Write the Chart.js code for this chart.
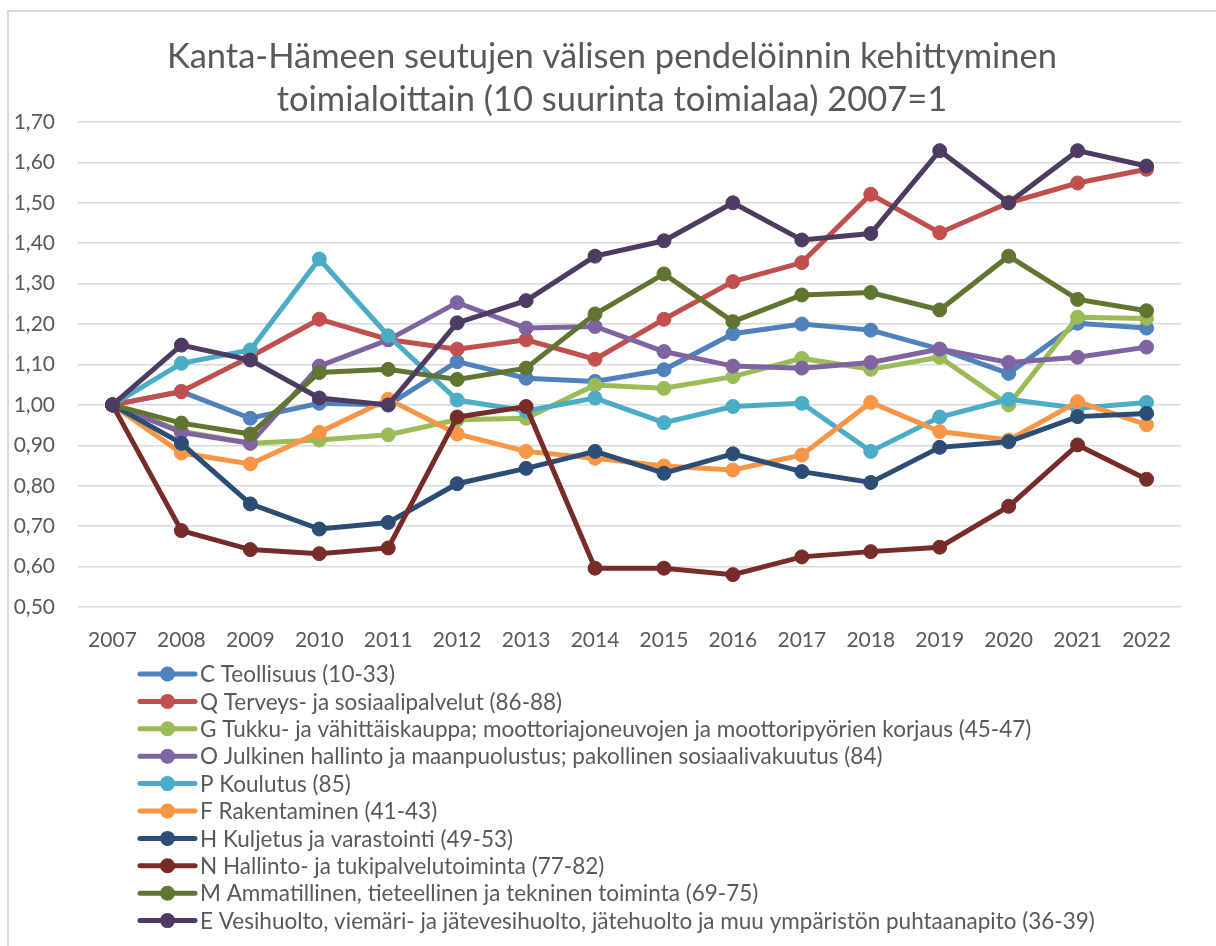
<!DOCTYPE html>
<html lang="fi">
<head>
  <meta charset="UTF-8">
  <title>Kanta-Hämeen pendelöinti</title>
  <script src="https://cdn.jsdelivr.net/npm/chart.js"></script>
  <style>
    html, body {
      margin: 0;
      padding: 0;
      background: #fff;
      overflow: hidden;
      width: 1216px;
      height: 946px;
    }
    .frame {
      position: absolute;
      left: 7px;
      top: 10px;
      width: 1400px;
      height: 1200px;
      border: 2px solid #d9d9d9;
    }
    #chart {
      position: absolute;
      left: 0;
      top: 0;
    }
  </style>
</head>
<body>
  <div class="frame"></div>
  <canvas id="chart" width="1216" height="946"></canvas>

  <script>
    const years = ['2007', '2008', '2009', '2010', '2011', '2012', '2013', '2014',
                   '2015', '2016', '2017', '2018', '2019', '2020', '2021', '2022'];

    const teollisuus   = [1.00, 1.033, 0.967, 1.004, 1.000, 1.107, 1.066, 1.058, 1.087, 1.176, 1.200, 1.185, 1.138, 1.078, 1.202, 1.190];
    const terveys      = [1.00, 1.033, 1.119, 1.212, 1.162, 1.138, 1.161, 1.113, 1.212, 1.305, 1.352, 1.521, 1.426, 1.500, 1.549, 1.583];
    const tukku        = [1.00, 0.935, 0.905, 0.913, 0.926, 0.963, 0.967, 1.049, 1.041, 1.070, 1.115, 1.088, 1.118, 1.000, 1.217, 1.214];
    const julkinen     = [1.00, 0.932, 0.905, 1.096, 1.161, 1.253, 1.190, 1.194, 1.132, 1.096, 1.091, 1.105, 1.138, 1.105, 1.118, 1.143];
    const koulutus     = [1.00, 1.103, 1.136, 1.361, 1.171, 1.012, 0.985, 1.017, 0.956, 0.996, 1.004, 0.885, 0.970, 1.014, 0.992, 1.006];
    const rakentaminen = [1.00, 0.881, 0.854, 0.932, 1.014, 0.928, 0.885, 0.868, 0.849, 0.839, 0.876, 1.006, 0.934, 0.913, 1.008, 0.951];
    const kuljetus     = [1.00, 0.905, 0.755, 0.693, 0.709, 0.805, 0.843, 0.885, 0.831, 0.879, 0.835, 0.808, 0.895, 0.909, 0.971, 0.979];
    const hallinto     = [1.00, 0.689, 0.642, 0.632, 0.646, 0.970, 0.996, 0.596, 0.596, 0.580, 0.624, 0.637, 0.648, 0.749, 0.901, 0.816];
    const ammatillinen = [1.00, 0.955, 0.928, 1.080, 1.088, 1.063, 1.091, 1.225, 1.324, 1.206, 1.272, 1.278, 1.235, 1.368, 1.261, 1.233];
    const vesihuolto   = [1.00, 1.148, 1.111, 1.017, 1.000, 1.203, 1.258, 1.368, 1.406, 1.500, 1.408, 1.424, 1.629, 1.500, 1.629, 1.591];

    const seriesNames = [
      'C Teollisuus (10-33)',
      'Q Terveys- ja sosiaalipalvelut (86-88)',
      'G Tukku- ja vähittäiskauppa; moottoriajoneuvojen ja moottoripyörien korjaus (45-47)',
      'O Julkinen hallinto ja maanpuolustus; pakollinen sosiaalivakuutus (84)',
      'P Koulutus (85)',
      'F Rakentaminen (41-43)',
      'H Kuljetus ja varastointi (49-53)',
      'N Hallinto- ja tukipalvelutoiminta (77-82)',
      'M Ammatillinen, tieteellinen ja tekninen toiminta (69-75)',
      'E Vesihuolto, viemäri- ja jätevesihuolto, jätehuolto ja muu ympäristön puhtaanapito (36-39)'
    ];
    const seriesData = [teollisuus, terveys, tukku, julkinen, koulutus,
                        rakentaminen, kuljetus, hallinto, ammatillinen, vesihuolto];
    const seriesColors = ['#4f81bd', '#c0504d', '#9bbb59', '#8064a2', '#4bacc6',
                          '#f79646', '#2c4d75', '#772c2a', '#5f7530', '#4d3b62'];

    const textColor = '#595959';
    const fontFamily = 'Lato, "Open Sans", sans-serif';

    // one legend row per series, drawn below the x axis like in Excel
    const listLegend = {
      id: 'listLegend',
      afterDraw(chart) {
        const ctx = chart.ctx;
        const area = chart.chartArea;
        const x0 = area.left + 62;
        const y0 = area.bottom + 67;
        const rowH = 27.4;
        ctx.save();
        ctx.font = '22.5px ' + fontFamily;
        ctx.textBaseline = 'middle';
        ctx.textAlign = 'left';
        chart.data.datasets.forEach((ds, i) => {
          const y = y0 + i * rowH;
          ctx.strokeStyle = ds.borderColor;
          ctx.lineWidth = 5;
          ctx.lineCap = 'round';
          ctx.beginPath();
          ctx.moveTo(x0, y);
          ctx.lineTo(x0 + 55, y);
          ctx.stroke();
          ctx.fillStyle = ds.borderColor;
          ctx.beginPath();
          ctx.arc(x0 + 27.5, y, 7.5, 0, Math.PI * 2);
          ctx.fill();
          ctx.fillStyle = textColor;
          ctx.fillText(ds.label, x0 + 60, y + 1);
        });
        ctx.restore();
      }
    };

    const chart = new Chart(document.getElementById('chart').getContext('2d'), {
      type: 'line',
      data: {
        labels: years,
        datasets: seriesNames.map((name, i) => ({
          label: name,
          data: seriesData[i],
          borderColor: seriesColors[i],
          backgroundColor: seriesColors[i],
          pointBackgroundColor: seriesColors[i],
          pointBorderColor: seriesColors[i],
          borderWidth: 5,
          pointRadius: 7,
          pointBorderWidth: 1,
          tension: 0,
          order: -i
        }))
      },
      options: {
        responsive: false,
        animation: false,
        layout: { padding: { left: 8, right: 0, top: 0, bottom: 295 } },
        plugins: {
          legend: { display: false },
          tooltip: { enabled: false },
          title: {
            display: true,
            text: ['Kanta-Hämeen seutujen välisen pendelöinnin kehittyminen',
                   'toimialoittain (10 suurinta toimialaa) 2007=1'],
            color: textColor,
            font: { family: fontFamily, size: 34.5, weight: 'normal', lineHeight: 1.246 },
            padding: { top: 35, bottom: 1 }
          }
        },
        scales: {
          x: {
            offset: true,
            grid: { display: false },
            border: { display: false },
            ticks: {
              color: textColor,
              font: { family: fontFamily, size: 21 },
              padding: 13,
              maxRotation: 0,
              autoSkip: false
            },
            afterFit(scale) { scale.height = 44; }
          },
          y: {
            min: 0.5,
            max: 1.7,
            grid: { color: '#d9d9d9', lineWidth: 1.5, drawTicks: false },
            border: { display: false },
            ticks: {
              stepSize: 0.1,
              color: textColor,
              font: { family: fontFamily, size: 21 },
              padding: 23,
              callback: v => v.toFixed(2).replace('.', ',')
            },
            afterFit(scale) { scale.width = 70; }
          },
          spacer: {
            position: 'right',
            grid: { display: false },
            border: { display: false },
            ticks: { display: false },
            afterFit(scale) { scale.width = 35; }
          }
        }
      },
      plugins: [listLegend]
    });
  </script>
</body>
</html>
